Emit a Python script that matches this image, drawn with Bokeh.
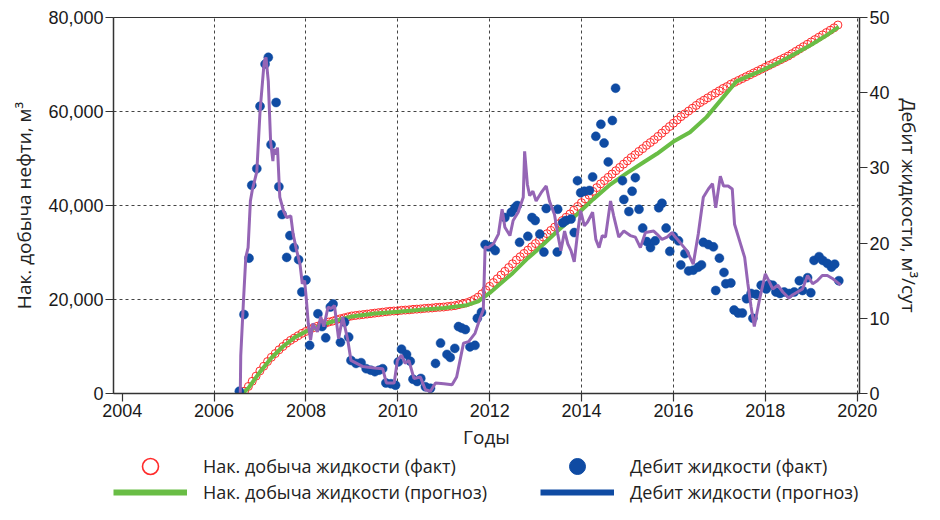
from bokeh.plotting import figure
from bokeh.layouts import column
from bokeh.models import (Range1d, LinearAxis, FixedTicker, NumeralTickFormatter,
                          PrintfTickFormatter, Legend, LegendItem, ColumnDataSource)
from bokeh.embed import file_html
from bokeh.resources import INLINE

# ---------------- data ----------------
# cumulative liquid production (fact), monthly from START_YEAR, thousand m3
START_YEAR = 2006.58
cum_fact_k = [
    0.0, 0.5, 1.5, 2.6, 3.7,
    4.8, 5.8, 6.8, 7.7, 8.5, 9.3, 10.0, 10.7, 11.3, 11.8, 12.3, 12.8,
    13.2, 13.6, 14.0, 14.3, 14.6, 14.9, 15.2, 15.4, 15.7, 15.9, 16.1, 16.3,
    16.5, 16.6, 16.7, 16.8, 16.9, 17.0, 17.1, 17.2, 17.3, 17.4, 17.5, 17.55,
    17.6, 17.7, 17.75, 17.8, 17.9, 17.95, 18.0, 18.1, 18.15, 18.2, 18.3, 18.35,
    18.4, 18.5, 18.6, 18.7, 18.9, 19.1, 19.3, 19.6, 20.0, 20.5, 21.2, 22.0,
    22.8, 23.6, 24.4, 25.2, 26.0, 26.8, 27.6, 28.4, 29.1, 29.8, 30.5, 31.2,
    31.9, 32.6, 33.3, 34.0, 34.7, 35.4, 36.1, 36.8, 37.5, 38.2, 39.0, 39.8,
    40.6, 41.4, 42.2, 43.0, 43.8, 44.6, 45.3, 46.0, 46.7, 47.4, 48.1, 48.8,
    49.5, 50.2, 50.8, 51.5, 52.1, 52.8, 53.4, 54.0, 54.7, 55.4, 56.1, 56.8,
    57.5, 58.2, 58.9, 59.5, 60.1, 60.7, 61.3, 61.9, 62.4, 62.9, 63.4, 63.9,
    64.4, 64.9, 65.3, 65.8, 66.2, 66.6, 67.0, 67.4, 67.8, 68.2, 68.6, 69.0,
    69.4, 69.8, 70.2, 70.6, 71.0, 71.4, 71.8, 72.3, 72.8, 73.3, 73.8, 74.3,
    74.8, 75.3, 75.8, 76.3, 76.8, 77.3, 77.8, 78.4,
]
cum_fact_years = [START_YEAR + i / 12 for i in range(len(cum_fact_k))]
cum_fact = [v * 1000 for v in cum_fact_k]

# cumulative liquid production (forecast), thousand m3
cum_fc_years = [2006.62, 2006.75, 2007.0, 2007.25, 2007.5, 2007.75, 2008.0, 2008.5,
                2009.0, 2009.5, 2010.0, 2010.5, 2011.0, 2011.5, 2011.75, 2012.0,
                2012.25, 2012.5, 2012.83, 2013.0, 2013.5, 2013.91, 2014.25, 2014.63,
                2015.0, 2015.35, 2015.64, 2016.0, 2016.36, 2016.72, 2017.08, 2017.37,
                2017.8, 2018.16, 2018.5, 2019.0, 2019.3, 2019.6]
cum_fc_k = [0.0, 1.2, 4.6, 7.6, 10.0, 11.9, 13.2, 15.1,
            16.4, 17.0, 17.4, 17.8, 18.2, 18.8, 19.6, 21.4,
            23.5, 25.6, 28.8, 30.2, 34.8, 38.2, 41.3, 44.5,
            47.0, 49.2, 51.0, 53.6, 55.6, 58.8, 63.0, 66.4,
            68.2, 69.8, 71.5, 74.2, 76.0, 78.0]
cum_fc = [v * 1000 for v in cum_fc_k]

# liquid rate (fact), m3/day
rate_fact_years = [
    2006.55, 2006.65, 2006.76, 2006.82, 2006.93, 2007.0, 2007.11, 2007.18, 2007.24, 2007.35,
    2007.41, 2007.48, 2007.58, 2007.65, 2007.74, 2007.84, 2007.91, 2008.0, 2008.08, 2008.26,
    2008.35, 2008.43, 2008.53, 2008.59, 2008.75, 2008.84, 2008.93, 2008.98, 2009.09, 2009.2,
    2009.31, 2009.41, 2009.5, 2009.59, 2009.67, 2009.74, 2009.85, 2009.95, 2010.01, 2010.08,
    2010.19, 2010.27, 2010.33, 2010.42, 2010.5, 2010.6, 2010.71, 2010.82, 2010.93, 2011.07,
    2011.14, 2011.24, 2011.32, 2011.39, 2011.47, 2011.57, 2011.68, 2011.73, 2011.82, 2011.9,
    2011.97, 2012.04, 2012.12, 2012.33, 2012.47, 2012.55, 2012.6, 2012.65, 2012.83, 2012.92,
    2012.99, 2013.09, 2013.18, 2013.23, 2013.47, 2013.48, 2013.59, 2013.66, 2013.77, 2013.84,
    2013.91, 2013.98, 2014.06, 2014.17, 2014.24, 2014.31, 2014.42, 2014.49, 2014.58, 2014.67,
    2014.74, 2014.89, 2014.92, 2015.03, 2015.1, 2015.17, 2015.25, 2015.33, 2015.42, 2015.5,
    2015.6, 2015.68, 2015.75, 2015.84, 2015.92, 2016.0, 2016.11, 2016.16, 2016.25, 2016.33,
    2016.43, 2016.54, 2016.61, 2016.65, 2016.76, 2016.87, 2016.92, 2017.0, 2017.1, 2017.14,
    2017.25, 2017.32, 2017.41, 2017.5, 2017.59, 2017.69, 2017.73, 2017.8, 2017.91, 2018.02,
    2018.08, 2018.16, 2018.23, 2018.32, 2018.41, 2018.52, 2018.63, 2018.74, 2018.81, 2018.92,
    2018.99, 2019.06, 2019.17, 2019.25, 2019.35, 2019.44, 2019.51, 2019.6,
]
rate_fact = [
    0.3, 10.5, 18.0, 27.7, 29.9, 38.2, 43.8, 44.7, 33.1, 38.7,
    27.5, 23.8, 18.1, 21.0, 19.4, 17.8, 13.5, 15.1, 6.4, 10.6,
    8.9, 7.4, 11.5, 11.9, 6.8, 9.5, 7.5, 4.4, 4.0, 4.1,
    3.3, 3.1, 2.9, 3.1, 3.3, 1.4, 1.3, 1.1, 4.2, 5.9,
    5.2, 4.3, 1.9, 1.6, 2.0, 0.9, 0.7, 4.0, 6.7, 5.2,
    4.8, 6.0, 8.9, 8.7, 8.5, 6.2, 6.4, 10.0, 10.8, 19.8,
    19.5, 19.5, 19.0, 23.4, 24.1, 24.7, 25.0, 20.1, 20.9, 23.4,
    23.0, 21.2, 18.8, 24.6, 18.8, 24.5, 22.7, 23.0, 23.2, 21.4,
    28.3, 26.7, 26.9, 27.0, 28.8, 34.2, 35.8, 33.3, 30.8, 36.3,
    40.6, 28.3, 25.8, 24.2, 26.9, 28.7, 24.5, 22.0, 20.2, 19.4,
    20.3, 24.7, 25.3, 22.0, 18.9, 20.9, 20.3, 17.1, 18.6, 16.3,
    16.4, 16.8, 17.1, 20.1, 19.8, 19.5, 13.7, 18.0, 16.1, 14.6,
    14.7, 11.1, 10.7, 10.7, 12.6, 13.3, 10.0, 13.2, 14.4, 13.9,
    14.5, 14.4, 13.5, 13.3, 13.5, 13.3, 13.5, 15.0, 13.7, 15.4,
    13.4, 17.7, 18.2, 17.7, 17.3, 16.8, 17.2, 15.0,
]

# liquid rate (forecast), m3/day
rate_fc_years = [
    2006.57, 2006.58, 2006.64, 2006.69, 2006.74, 2006.79, 2006.83, 2006.93, 2007.0, 2007.09,
    2007.13, 2007.18, 2007.23, 2007.28, 2007.3, 2007.35, 2007.38, 2007.43, 2007.51, 2007.58,
    2007.67, 2007.72, 2007.79, 2007.87, 2007.92, 2007.97, 2008.01, 2008.05, 2008.1, 2008.15,
    2008.25, 2008.32, 2008.39, 2008.48, 2008.55, 2008.62, 2008.71, 2008.8, 2008.91, 2008.98,
    2009.23, 2009.49, 2009.67, 2009.75, 2009.92, 2009.99, 2010.08, 2010.16, 2010.24, 2010.35,
    2010.49, 2010.6, 2010.71, 2010.82, 2011.0, 2011.18, 2011.28, 2011.43, 2011.54, 2011.68,
    2011.79, 2011.86, 2011.9, 2011.97, 2012.08, 2012.19, 2012.27, 2012.33, 2012.44, 2012.51,
    2012.62, 2012.73, 2012.76, 2012.82, 2012.87, 2012.94, 2013.01, 2013.12, 2013.23, 2013.3,
    2013.41, 2013.48, 2013.55, 2013.63, 2013.7, 2013.77, 2013.84, 2013.91, 2013.98, 2014.06,
    2014.13, 2014.24, 2014.31, 2014.38, 2014.45, 2014.52, 2014.63, 2014.7, 2014.81, 2014.92,
    2015.06, 2015.17, 2015.28, 2015.39, 2015.57, 2015.64, 2015.75, 2015.86, 2015.97, 2016.04,
    2016.14, 2016.29, 2016.36, 2016.43, 2016.54, 2016.65, 2016.76, 2016.85, 2016.92, 2017.02,
    2017.09, 2017.19, 2017.28, 2017.33, 2017.44, 2017.55, 2017.62, 2017.69, 2017.76, 2017.87,
    2018.0, 2018.09, 2018.16, 2018.27, 2018.38, 2018.51, 2018.59, 2018.7, 2018.81, 2018.92,
    2019.03, 2019.13, 2019.24, 2019.35, 2019.46, 2019.56, 2019.64,
]
rate_fc = [
    0.0, 5.0, 12.4, 18.1, 19.4, 25.6, 27.0, 29.5, 37.5, 44.1,
    44.7, 41.5, 33.5, 30.9, 32.5, 31.8, 32.7, 26.1, 24.3, 23.4,
    23.6, 21.2, 19.2, 17.2, 14.6, 15.0, 12.4, 9.3, 7.1, 9.3,
    8.2, 10.2, 8.9, 11.5, 11.3, 11.7, 7.3, 10.2, 7.1, 4.4,
    3.6, 3.4, 3.3, 1.4, 1.4, 4.4, 5.1, 4.0, 4.4, 2.0,
    2.2, 0.5, 0.3, 1.4, 1.3, 1.15, 2.2, 6.7, 6.9, 8.0,
    10.0, 11.1, 19.5, 19.4, 19.9, 21.2, 24.5, 22.1, 21.0, 23.0,
    24.1, 26.1, 32.2, 27.8, 26.3, 26.9, 25.6, 26.7, 27.6, 25.6,
    23.8, 21.2, 19.0, 21.6, 19.9, 19.0, 17.5, 21.2, 24.3, 22.3,
    22.8, 24.1, 20.5, 19.4, 21.0, 20.8, 25.6, 23.6, 20.8, 21.6,
    21.0, 20.8, 19.4, 21.4, 21.6, 21.2, 20.5, 20.8, 21.4, 20.8,
    20.1, 19.0, 18.1, 17.2, 21.2, 26.1, 27.2, 27.9, 24.7, 28.9,
    27.6, 27.6, 27.2, 22.5, 20.3, 18.1, 14.6, 11.5, 8.9, 12.4,
    15.9, 14.8, 13.9, 14.4, 13.5, 12.7, 13.1, 13.5, 13.9, 15.7,
    14.6, 15.0, 15.7, 15.7, 15.3, 14.8, 14.4,
]

year_ticks = [2004, 2006, 2008, 2010, 2012, 2014, 2016, 2018, 2020]
cum_ticks = [0, 20000, 40000, 60000, 80000]
rate_ticks = [0, 10, 20, 30, 40, 50]

labels = ["Нак. добыча жидкости (факт)", "Дебит жидкости (факт)",
          "Нак. добыча жидкости (прогноз)", "Дебит жидкости (прогноз)"]

# ---------------- styling ----------------
RED = "#ff2b2b"
GREEN = "#69bd45"
BLUE = "#0f4ba3"
PURPLE = "#9565b5"
TICK_FONT = "Liberation Sans"
TEXT_FONT = "Open Sans"

W = 924
p = figure(width=W, height=454, output_backend="svg", toolbar_location=None,
           x_range=Range1d(2003.81, 2020.05), y_range=Range1d(0, 80000),
           min_border_left=113, min_border_right=59, min_border_top=17,
           min_border_bottom=61)
p.extra_y_ranges = {"rate": Range1d(0, 50)}
p.background_fill_color = "white"
p.border_fill_color = "white"
p.outline_line_color = "#333333"
p.outline_line_width = 1

# axes
p.xaxis.ticker = FixedTicker(ticks=year_ticks)
p.xaxis.formatter = PrintfTickFormatter(format="%d")
p.xaxis.axis_label = "Годы"
p.yaxis.ticker = FixedTicker(ticks=cum_ticks)
p.yaxis.formatter = NumeralTickFormatter(format="0,0")
p.yaxis.axis_label = "Нак. добыча нефти, м³"

raxis = LinearAxis(y_range_name="rate", ticker=FixedTicker(ticks=rate_ticks),
                   axis_label="Дебит жидкости, м³/сут")
p.add_layout(raxis, "right")

for ax in [p.xaxis[0], p.yaxis[0], raxis]:
    ax.axis_line_color = "#333333"
    ax.axis_line_width = 1.5
    ax.major_tick_line_color = "#333333"
    ax.major_tick_line_width = 1.2
    ax.major_tick_out = 8
    ax.major_tick_in = 0
    ax.minor_tick_line_color = None
    ax.major_label_text_font = TICK_FONT
    ax.major_label_text_font_size = "18px"
    ax.major_label_text_color = "#1a1a1a"
    ax.major_label_standoff = 2
    ax.axis_label_text_font = TEXT_FONT
    ax.axis_label_text_font_size = "19px"
    ax.axis_label_text_font_style = "normal"
    ax.axis_label_text_color = "#222222"
p.xaxis.axis_label_standoff = 4
p.yaxis.axis_label_standoff = 8
raxis.axis_label_standoff = 3

# grid
p.xgrid.ticker = FixedTicker(ticks=year_ticks[1:])
p.ygrid.ticker = FixedTicker(ticks=cum_ticks[1:-1])
for g in [p.xgrid[0], p.ygrid[0]]:
    g.grid_line_color = "#444444"
    g.grid_line_dash = "3 3"
    g.grid_line_width = 1

# glyphs
p.scatter(cum_fact_years, cum_fact, marker="circle", size=8,
          fill_color=None, line_color=RED, line_width=1)
p.line(cum_fc_years, cum_fc, line_color=GREEN, line_width=4)
p.scatter(rate_fact_years, rate_fact, y_range_name="rate", marker="circle",
          size=9, fill_color=BLUE, line_color=BLUE, line_width=0.5)
p.line(rate_fc_years, rate_fc, y_range_name="rate", line_color=PURPLE, line_width=3)

# ---------------- legend strip ----------------
lg = figure(width=W, height=50, output_backend="svg", toolbar_location=None,
            x_range=Range1d(0, 1), y_range=Range1d(0, 1),
            x_axis_location=None, y_axis_location=None,
            min_border_left=0, min_border_right=0, min_border_top=0,
            min_border_bottom=0)
lg.grid.visible = False
lg.outline_line_color = None
lg.background_fill_color = "white"
lg.border_fill_color = "white"

proxy = ColumnDataSource(data=dict(x=[float("nan")], y=[float("nan")]))
l_red = lg.scatter("x", "y", source=proxy, marker="circle", size=16,
                   fill_color=None, line_color=RED, line_width=1.6)
l_green = lg.line("x", "y", source=proxy, line_color=GREEN, line_width=6)
l_blue = lg.scatter("x", "y", source=proxy, marker="circle", size=17,
                    fill_color=BLUE, line_color=BLUE)
l_bline = lg.line("x", "y", source=proxy, line_color=BLUE, line_width=6)

legend_style = dict(orientation="horizontal", glyph_width=74, glyph_height=40,
                    label_height=20, label_standoff=16, label_width=337, spacing=0,
                    padding=0, margin=0, background_fill_alpha=0, border_line_alpha=0,
                    label_text_font=TEXT_FONT, label_text_font_size="18px",
                    label_text_color="#222222")
legend_fact = Legend(items=[LegendItem(label=labels[0], renderers=[l_red]),
                            LegendItem(label=labels[1], renderers=[l_blue])],
                     location=(0, 18), **legend_style)
legend_fc = Legend(items=[LegendItem(label=labels[2], renderers=[l_green]),
                          LegendItem(label=labels[3], renderers=[l_bline])],
                   location=(0, -8), **legend_style)
lg.add_layout(legend_fact)
lg.add_layout(legend_fc)

layout = column(p, lg, spacing=0)
open("out.html", "w").write(file_html(layout, INLINE))
